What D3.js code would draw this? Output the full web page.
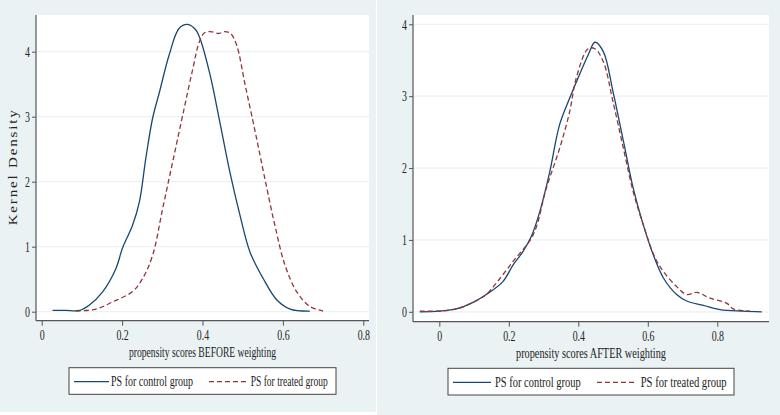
<!DOCTYPE html>
<html>
<head>
<meta charset="utf-8">
<script src="https://cdn.jsdelivr.net/npm/d3@7"></script>
<style>
  body { margin: 0; background: #fff; }
  svg { display: block; }
</style>
</head>
<body>
<svg id="chart" width="780" height="415"></svg>
<script>
// kernel density
const beforeControlX = [0.027, 0.06, 0.094, 0.118, 0.152, 0.185, 0.201, 0.226, 0.243, 0.259, 0.276, 0.293, 0.317, 0.342, 0.363, 0.384, 0.394, 0.419, 0.443, 0.468, 0.493, 0.518, 0.551, 0.585, 0.618, 0.667];
const beforeControlY = [0.02, 0.02, 0.02, 0.10, 0.31, 0.67, 0.98, 1.33, 1.69, 2.36, 2.98, 3.38, 3.95, 4.36, 4.42, 4.33, 4.20, 3.64, 2.92, 2.15, 1.49, 0.92, 0.51, 0.18, 0.04, 0.01];
const beforeTreatedX = [0.085, 0.135, 0.176, 0.226, 0.251, 0.276, 0.301, 0.326, 0.351, 0.376, 0.392, 0.405, 0.42, 0.44, 0.455, 0.47, 0.485, 0.506, 0.531, 0.555, 0.58, 0.605, 0.634, 0.667, 0.70];
const beforeTreatedY = [0.01, 0.04, 0.15, 0.31, 0.51, 0.87, 1.59, 2.31, 3.03, 3.74, 4.15, 4.29, 4.31, 4.28, 4.31, 4.28, 4.10, 3.49, 2.77, 2.05, 1.33, 0.72, 0.31, 0.08, 0.01];

const afterControlX = [-0.056, 0.0, 0.049, 0.097, 0.135, 0.183, 0.212, 0.241, 0.265, 0.289, 0.318, 0.346, 0.375, 0.399, 0.428, 0.448, 0.472, 0.50, 0.53, 0.558, 0.587, 0.616, 0.645, 0.683, 0.712, 0.76, 0.808, 0.875, 0.928];
const afterControlY = [0.0, 0.01, 0.04, 0.13, 0.24, 0.42, 0.65, 0.84, 1.05, 1.39, 1.95, 2.6, 2.97, 3.25, 3.57, 3.75, 3.62, 3.06, 2.37, 1.72, 1.21, 0.79, 0.47, 0.24, 0.15, 0.09, 0.03, 0.01, 0.0];
const afterTreatedX = [-0.056, 0.0, 0.049, 0.097, 0.135, 0.164, 0.212, 0.27, 0.308, 0.346, 0.375, 0.394, 0.428, 0.448, 0.472, 0.50, 0.53, 0.558, 0.587, 0.621, 0.645, 0.683, 0.712, 0.741, 0.779, 0.827, 0.846, 0.894];
const afterTreatedY = [0.01, 0.01, 0.04, 0.13, 0.24, 0.40, 0.70, 1.07, 1.72, 2.27, 2.78, 3.25, 3.66, 3.66, 3.48, 2.92, 2.27, 1.67, 1.21, 0.75, 0.56, 0.35, 0.24, 0.27, 0.19, 0.12, 0.04, 0.01];

const xTicks = [0, 0.2, 0.4, 0.6, 0.8];
const yTicks = [0, 1, 2, 3, 4];
const seriesNames = ['PS for control group', 'PS for treated group'];
const xTitles = ['propensity scores BEFORE weighting', 'propensity scores AFTER weighting'];
const yTitle = 'Kernel Density';

const FONT = '"Liberation Serif", "Times New Roman", serif';
const SQUISH = 0.66;   // the picture is squeezed sideways
const colors = ['#1a476f', '#90353b'];
const bgColor = '#eaf2f3';

const svg = d3.select('#chart');

// layout of the two graphs (pixels)
const panels = [
  {
    bg: [0, 0, 376, 412],
    plot: {x0: 36, x1: 369, y0: 15, y1: 320.7},
    xRange: [41.7, 363.3], yRange: [311.7, 51.7],
    series: [[beforeControlX, beforeControlY], [beforeTreatedX, beforeTreatedY]],
    title: xTitles[0], titleY: 357, titleLen: 147,
    legend: {x: 69, y: 367.7, w: 267, h: 26.6, lineY: 381.7, textY: 386,
             l1: [74, 109], t1: [111, 82], l2: [209, 247], t2: [250.7, 77]},
    yLabel: true
  },
  {
    bg: [377, 0, 403, 415],
    plot: {x0: 413, x1: 769, y0: 15, y1: 321.7},
    xRange: [439.3, 717.3], yRange: [311.8, 24.3],
    series: [[afterControlX, afterControlY], [afterTreatedX, afterTreatedY]],
    title: xTitles[1], titleY: 358, titleLen: 150,
    legend: {x: 448, y: 368.3, w: 286, h: 26.7, lineY: 382.3, textY: 387,
             l1: [453, 491], t1: [495, 85.7], l2: [597, 637], t2: [640.7, 86]},
    yLabel: false
  }
];

function xFmt(d) {
  return d === 0 ? '0' : d3.format('.1f')(d);
}

panels.forEach((p) => {
  const g = svg.append('g');

  g.append('rect')
    .attr('x', p.bg[0]).attr('y', p.bg[1])
    .attr('width', p.bg[2]).attr('height', p.bg[3])
    .attr('fill', bgColor);

  g.append('rect')
    .attr('x', p.plot.x0).attr('y', p.plot.y0)
    .attr('width', p.plot.x1 - p.plot.x0).attr('height', p.plot.y1 - p.plot.y0)
    .attr('fill', '#fff');

  const xScale = d3.scaleLinear().domain([0, 0.8]).range(p.xRange);
  const yScale = d3.scaleLinear().domain([0, 4]).range(p.yRange);

  // grid
  g.append('g')
    .selectAll('line')
    .data(yTicks)
    .enter()
    .append('line')
    .attr('x1', p.plot.x0).attr('x2', p.plot.x1)
    .attr('y1', (d) => yScale(d)).attr('y2', (d) => yScale(d))
    .attr('stroke', bgColor)
    .attr('stroke-width', 1.2);

  // curves
  const line = d3.line()
    .x((d) => xScale(d[0]))
    .y((d) => yScale(d[1]))
    .curve(d3.curveCatmullRom.alpha(0.5));

  p.series.forEach((s, i) => {
    const pts = s[0].map((x, k) => [x, s[1][k]]);
    g.append('path')
      .datum(pts)
      .attr('d', line)
      .attr('fill', 'none')
      .attr('stroke', colors[i])
      .attr('stroke-width', 1.3)
      .attr('stroke-dasharray', i === 1 ? '5,3' : null);
  });

  // x axis
  const xAxis = d3.axisBottom(xScale)
    .tickValues(xTicks)
    .tickFormat(xFmt)
    .tickSize(5)
    .tickPadding(4)
    .tickSizeOuter(0);
  const xg = g.append('g')
    .attr('transform', 'translate(0,' + p.plot.y1 + ')')
    .call(xAxis);
  xg.select('.domain').remove();
  xg.append('line')
    .attr('x1', p.plot.x0).attr('x2', p.plot.x1)
    .attr('stroke', '#555').attr('stroke-width', 1.2);
  xg.selectAll('.tick line').attr('stroke', '#555');
  xg.selectAll('.tick text')
    .attr('font-family', FONT).attr('font-size', 15).attr('fill', '#222')
    .attr('transform', 'scale(' + SQUISH + ',1)');

  // y axis
  const yAxis = d3.axisLeft(yScale)
    .tickValues(yTicks)
    .tickFormat(d3.format('d'))
    .tickSize(4)
    .tickPadding(3)
    .tickSizeOuter(0);
  const yg = g.append('g')
    .attr('transform', 'translate(' + p.plot.x0 + ',0)')
    .call(yAxis);
  yg.select('.domain').remove();
  yg.append('line')
    .attr('y1', p.plot.y0).attr('y2', p.plot.y1)
    .attr('stroke', '#555').attr('stroke-width', 1.2);
  yg.selectAll('.tick line').attr('stroke', '#555');
  yg.selectAll('.tick text')
    .attr('font-family', FONT).attr('font-size', 15).attr('fill', '#222')
    .attr('x', -6 / SQUISH)
    .attr('transform', 'scale(' + SQUISH + ',1)');

  // x title
  g.append('text')
    .attr('x', (p.plot.x0 + p.plot.x1) / 2)
    .attr('y', p.titleY)
    .attr('text-anchor', 'middle')
    .attr('font-family', FONT).attr('font-size', 14).attr('fill', '#222')
    .attr('textLength', p.titleLen)
    .attr('lengthAdjust', 'spacingAndGlyphs')
    .text(p.title);

  if (p.yLabel) {
    g.append('text')
      .attr('transform', 'translate(17,' + ((p.plot.y0 + p.plot.y1) / 2) + ') rotate(-90) scale(1,0.8)')
      .attr('text-anchor', 'middle')
      .attr('font-family', FONT).attr('font-size', 15).attr('fill', '#222')
      .attr('textLength', 115)
      .attr('lengthAdjust', 'spacing')
      .text(yTitle);
  }

  // legend
  const L = p.legend;
  g.append('rect')
    .attr('x', L.x).attr('y', L.y).attr('width', L.w).attr('height', L.h)
    .attr('fill', '#fff').attr('stroke', '#444').attr('stroke-width', 1);
  [[L.l1, L.t1], [L.l2, L.t2]].forEach((e, i) => {
    g.append('line')
      .attr('x1', e[0][0]).attr('x2', e[0][1])
      .attr('y1', L.lineY).attr('y2', L.lineY)
      .attr('stroke', colors[i]).attr('stroke-width', 1.3)
      .attr('stroke-dasharray', i === 1 ? '5,3' : null);
    g.append('text')
      .attr('x', e[1][0]).attr('y', L.textY)
      .attr('font-family', FONT).attr('font-size', 15).attr('fill', '#222')
      .attr('textLength', e[1][1])
      .attr('lengthAdjust', 'spacingAndGlyphs')
      .text(seriesNames[i]);
  });
});
</script>
</body>
</html>
